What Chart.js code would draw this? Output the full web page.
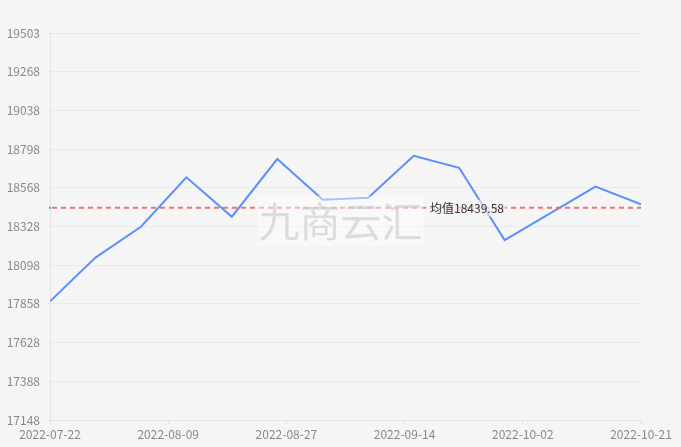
<!DOCTYPE html>
<html>
<head>
<meta charset="utf-8">
<script src="https://cdn.jsdelivr.net/npm/chart.js@4"></script>
<style>
html,body{margin:0;padding:0;background:#f5f5f5;}
#wrap{width:681px;height:447px;position:relative;}
</style>
</head>
<body>
<div id="wrap"><canvas id="c" width="681" height="447"></canvas></div>
<script>
const dates = ["2022-07-22","2022-07-29","2022-08-05","2022-08-12","2022-08-19","2022-08-26","2022-09-02","2022-09-09","2022-09-16","2022-09-23","2022-09-30","2022-10-14","2022-10-21"];
const prices = [17870,18136,18324,18625,18385,18736,18489,18501,18756,18683,18243,18568,18461];
const xTickLabels = ["2022-07-22","2022-08-09","2022-08-27","2022-09-14","2022-10-02","2022-10-21"];
const yTickLabels = ["17148","17388","17628","17858","18098","18328","18568","18798","19038","19268","19503"];
const meanValue = 18439.58;
const meanLabel = "均值18439.58";
const watermark = "九商云汇";

const DAY = 86400000;
const t0 = Date.parse(dates[0]);
const dayOf = s => Math.round((Date.parse(s) - t0) / DAY);
const points = dates.map((d, i) => ({x: dayOf(d), y: prices[i]}));
const xMin = 0, xMax = dayOf(dates[dates.length - 1]);
const xTickPos = xTickLabels.map((l, i) => xMin + i * (xMax - xMin) / (xTickLabels.length - 1));
const yMin = Number(yTickLabels[0]), yMax = Number(yTickLabels[yTickLabels.length - 1]);
const yStep = (yMax - yMin) / (yTickLabels.length - 1);
const FONT = "'Noto Sans CJK SC','Noto Sans',sans-serif";

const overlay = {
  id: 'overlay',
  afterDatasetsDraw(chart) {
    const {ctx, chartArea: a, scales} = chart;
    const y = scales.y.getPixelForValue(meanValue);
    ctx.save();
    // mean line
    ctx.strokeStyle = 'rgba(240,100,100,0.9)';
    ctx.lineWidth = 2;
    ctx.setLineDash([5, 4]);
    ctx.beginPath();
    ctx.moveTo(a.left + 2, y);
    ctx.lineTo(a.right, y);
    ctx.stroke();
    ctx.setLineDash([]);
    ctx.fillStyle = '#3fb1a3';
    ctx.fillRect(a.left - 1, y - 1, 2, 2);
    // mean label
    const lx = a.left + (a.right - a.left) * 0.643;
    ctx.font = "12px " + FONT;
    const tw = ctx.measureText(meanLabel).width;
    ctx.fillStyle = 'rgba(245,245,245,0.6)';
    ctx.fillRect(lx - 4, y - 8, tw + 6, 17);
    ctx.fillStyle = '#333';
    ctx.textBaseline = 'middle';
    ctx.textAlign = 'left';
    ctx.fillText(meanLabel, lx, y + 1);
    // watermark
    const cx = (a.left + a.right) / 2 - 5;
    const cy = y + 13;
    ctx.fillStyle = 'rgba(255,255,255,0.45)';
    ctx.fillRect(cx - 83, cy - 25, 166, 50);
    ctx.font = "41px " + FONT;
    ctx.fillStyle = 'rgba(200,200,200,0.6)';
    ctx.textAlign = 'center';
    ctx.fillText(watermark, cx, cy + 1);
    ctx.restore();
  }
};

new Chart(document.getElementById('c'), {
  type: 'line',
  data: {
    datasets: [{
      data: points,
      borderColor: '#5b8ff9',
      borderWidth: 2,
      pointRadius: 0,
      tension: 0,
      fill: false
    }]
  },
  options: {
    responsive: false,
    animation: false,
    devicePixelRatio: 1,
    layout: {padding: {top: 33, right: 40, left: 0, bottom: 0}},
    plugins: {legend: {display: false}, tooltip: {enabled: false}},
    scales: {
      x: {
        type: 'linear',
        min: xMin,
        max: xMax,
        afterBuildTicks: s => { s.ticks = xTickPos.map(v => ({value: v})); },
        afterFit: s => { s.height = 27; },
        ticks: {
          autoSkip: false, maxRotation: 0,
          color: '#888', font: {size: 12, family: FONT}, padding: 3,
          callback: (v, i) => xTickLabels[i]
        },
        grid: {display: true, drawOnChartArea: false, drawTicks: true, tickLength: 4, color: '#e3e3e3'},
        border: {display: true, color: '#e3e3e3'}
      },
      y: {
        min: yMin, max: yMax,
        afterBuildTicks: s => { s.ticks = yTickLabels.map((l, i) => ({value: yMin + i * yStep})); },
        afterFit: s => { s.width = 50; },
        ticks: {
          autoSkip: false,
          color: '#888', font: {size: 12, family: FONT}, padding: 6,
          callback: (v, i) => yTickLabels[i]
        },
        grid: {color: '#eaeaea', lineWidth: 1, tickLength: 4},
        border: {display: true, color: '#e3e3e3'}
      }
    }
  },
  plugins: [overlay]
});
</script>
</body>
</html>
